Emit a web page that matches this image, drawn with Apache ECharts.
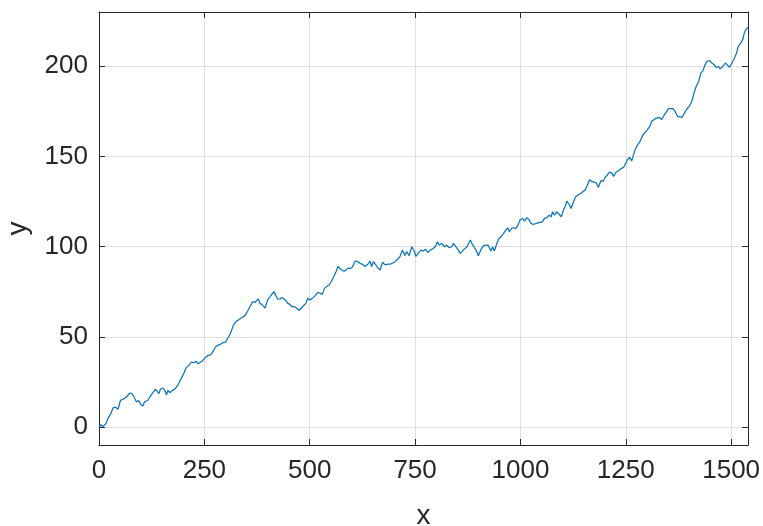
<!DOCTYPE html>
<html>
<head>
<meta charset="utf-8">
<script src="https://cdn.jsdelivr.net/npm/echarts@6/dist/echarts.min.js"></script>
<style>
  html, body { margin: 0; padding: 0; background: #ffffff; }
  #chart { width: 763px; height: 526px; }
</style>
</head>
<body>
<div id="chart"></div>
<script>
// Random-walk trace: sample positions and their values
const xValues = [
  0, 2, 5, 9, 13, 17, 21, 28, 33, 39, 45, 51, 57, 65, 73, 78, 83, 89, 94, 99,
  104, 108, 112, 116, 123, 128, 134, 138, 142, 146, 152, 156, 160, 164, 168, 173, 180, 188, 195, 202,
  207, 213, 219, 225, 231, 235, 239, 244, 251, 259, 265, 271, 276, 282, 289, 294, 300, 306, 310, 315,
  319, 325, 331, 336, 343, 349, 354, 360, 365, 370, 374, 378, 382, 388, 394, 400, 406, 410, 415, 419,
  424, 430, 435, 442, 448, 453, 457, 464, 469, 475, 479, 485, 491, 495, 501, 506, 513, 519, 525, 530,
  535, 540, 546, 551, 556, 562, 567, 572, 578, 584, 590, 596, 601, 608, 614, 619, 625, 631, 638, 643,
  647, 651, 657, 661, 667, 673, 679, 685, 691, 696, 703, 709, 714, 720, 726, 730, 736, 742, 748, 752,
  758, 764, 770, 775, 780, 786, 791, 798, 803, 807, 813, 820, 825, 831, 837, 841, 845, 851, 857, 861,
  867, 873, 877, 881, 886, 891, 896, 900, 907, 912, 918, 923, 926, 930, 934, 938, 944, 949, 954, 960,
  965, 970, 974, 980, 984, 989, 994, 999, 1005, 1010, 1015, 1021, 1025, 1031, 1037, 1041, 1047, 1052, 1057, 1063,
  1068, 1073, 1076, 1081, 1086, 1092, 1097, 1102, 1106, 1110, 1116, 1120, 1126, 1131, 1136, 1142, 1148, 1154, 1159, 1164,
  1169, 1175, 1180, 1185, 1191, 1196, 1201, 1207, 1211, 1217, 1221, 1227, 1233, 1238, 1245, 1248, 1254, 1259, 1264, 1268,
  1272, 1278, 1283, 1288, 1292, 1296, 1301, 1308, 1312, 1317, 1322, 1325, 1330, 1335, 1339, 1346, 1351, 1355, 1362, 1367,
  1373, 1377, 1383, 1387, 1391, 1395, 1401, 1407, 1412, 1417, 1423, 1428, 1433, 1438, 1442, 1449, 1454, 1460, 1464, 1470,
  1474, 1480, 1486, 1491, 1496, 1502, 1507, 1512, 1517, 1523, 1528, 1531, 1536, 1540
];
const yValues = [
  0, 1, 1.3, 0, 0.5, 2, 4.6, 7.4, 10.5, 11, 9.8, 14.8, 15.3, 16.6, 18.8, 18.5, 16.6, 13.8, 14.6, 12.4,
  11.6, 13.8, 12.9, 14.8, 17.5, 19, 21, 19.8, 18.5, 21, 21.6, 20.3, 17.9, 20.3, 19, 20, 21, 23.5, 26.8, 30,
  33, 34, 36, 35.6, 36.4, 35, 34, 36.4, 38.2, 39.7, 40, 42, 44.3, 45.2, 46, 46.7, 47, 49.3, 51, 53.8,
  56.5, 58.4, 59.3, 60.2, 61.1, 62.6, 64.8, 67.5, 69.5, 69, 69.5, 71, 68.5, 67.6, 65.8, 70.4, 72.2, 71.3, 75, 73.2,
  70.8, 71, 71.7, 70.4, 68.5, 68, 66.7, 66.7, 65.8, 64.7, 65.8, 67.2, 68.5, 71.3, 70.4, 71.3, 72.8, 74.6, 74.1, 73.5,
  76.8, 77.8, 78.7, 80.5, 82.8, 85.7, 88.9, 87.9, 86.5, 86.5, 87.9, 87.9, 88.5, 92, 91.6, 90.7, 90.2, 88.9, 90.2, 92,
  88.9, 91.6, 89.8, 88.3, 87, 91.3, 89.8, 90.2, 90.2, 90.7, 91.6, 93.1, 94.4, 98.1, 95, 97.2, 95, 99.9, 97.5, 94.5,
  96.5, 98, 97.5, 98.6, 96.7, 98, 98.6, 99.9, 102.7, 100.8, 101.7, 99.9, 100.8, 99.3, 99.9, 101.7, 102.7, 98.6, 96.2, 95.3,
  98.6, 99.9, 100.8, 103.6, 101.2, 99.3, 97.5, 94.9, 98.6, 100.4, 100.8, 100.8, 99.9, 97.5, 99.9, 97.5, 101.7, 104.5, 105.4, 107.3,
  109.1, 110.4, 108.2, 110.4, 111, 110.1, 111.9, 114.7, 115.6, 114.1, 116, 114.7, 112.8, 112.3, 112.8, 112.3, 113.4, 113.7, 115.6, 116,
  117.4, 116.5, 119.3, 117.4, 119.3, 117.8, 116.5, 120.2, 122.1, 125.2, 123.3, 121.1, 124.8, 127.6, 128.5, 129.3, 130.4, 131.5, 134.3, 137,
  136.1, 135.7, 135.2, 132.8, 136.5, 136.1, 138.3, 139.8, 141.3, 140.7, 138.9, 141.3, 142, 143.1, 143.9, 145.3, 148.1, 149.4, 147.5, 150.5,
  153.6, 156.4, 157.9, 160.5, 162.3, 161.6, 164.7, 167.1, 169.7, 170.3, 171.2, 170.3, 171.6, 170.3, 172.1, 174.5, 176.4, 177.1, 176.4, 174.9,
  172.1, 172.7, 171.6, 173, 172.7, 176.4, 177.7, 180.8, 185, 188.7, 191.5, 196.1, 197.4, 200.7, 202.6, 203, 201.7, 200.7, 199.3, 199.8,
  198.5, 199.8, 201.7, 200.7, 199.3, 201.7, 204.1, 206.7, 210.9, 212.7, 215.1, 218.3, 220.7, 221.5
];

// Axis ranges and tick positions
const xRange = [0, 1540];
const yRange = [-10, 230];
const xTicks = [0, 250, 500, 750, 1000, 1250, 1500];
const yTicks = [0, 50, 100, 150, 200];

const points = xValues.map((x, i) => [x, yValues[i]]);

const ink = '#262626';
const gridInk = '#dfdfdf';
const font = '"Liberation Sans", Arial, Helvetica, sans-serif';
const plain = v => String(v);

const chart = echarts.init(document.getElementById('chart'), null, { renderer: 'canvas' });

const baseAxis = {
  type: 'value',
  axisLine: { show: true, onZero: false, lineStyle: { color: ink, width: 1 } },
  axisTick: { show: true, inside: true, length: 6, lineStyle: { color: ink, width: 1 } },
  splitLine: { show: false },
  axisLabel: { show: false }
};

chart.setOption({
  animation: false,
  backgroundColor: '#ffffff',
  grid: { left: 99, right: 15, top: 12, bottom: 81, containLabel: false, outerBoundsMode: 'none' },
  xAxis: [
    Object.assign({}, baseAxis, {
      position: 'bottom',
      min: xRange[0], max: xRange[1],
      axisTick: Object.assign({}, baseAxis.axisTick, { customValues: xTicks }),
      splitLine: { show: true, lineStyle: { color: gridInk, width: 1 } },
      axisLabel: {
        show: true, customValues: xTicks, margin: 13, formatter: plain,
        color: ink, fontSize: 26, fontFamily: font
      },
      name: 'x', nameLocation: 'middle', nameGap: 57,
      nameTextStyle: { color: ink, fontSize: 28, fontFamily: font }
    }),
    Object.assign({}, baseAxis, {
      position: 'top',
      min: xRange[0], max: xRange[1],
      axisTick: Object.assign({}, baseAxis.axisTick, { customValues: xTicks })
    })
  ],
  yAxis: [
    Object.assign({}, baseAxis, {
      position: 'left',
      min: yRange[0], max: yRange[1],
      axisTick: Object.assign({}, baseAxis.axisTick, { customValues: yTicks }),
      splitLine: { show: true, lineStyle: { color: gridInk, width: 1 } },
      axisLabel: {
        show: true, customValues: yTicks, margin: 11, formatter: plain,
        color: ink, fontSize: 26, fontFamily: font
      },
      name: 'y', nameLocation: 'middle', nameGap: 67,
      nameTextStyle: { color: ink, fontSize: 28, fontFamily: font }
    }),
    Object.assign({}, baseAxis, {
      position: 'right',
      min: yRange[0], max: yRange[1],
      axisTick: Object.assign({}, baseAxis.axisTick, { customValues: yTicks })
    })
  ],
  series: [{
    type: 'line',
    xAxisIndex: 0,
    yAxisIndex: 0,
    data: points,
    showSymbol: false,
    symbol: 'none',
    lineStyle: { color: '#0072BD', width: 1.2 },
    silent: true
  }]
});
</script>
</body>
</html>
